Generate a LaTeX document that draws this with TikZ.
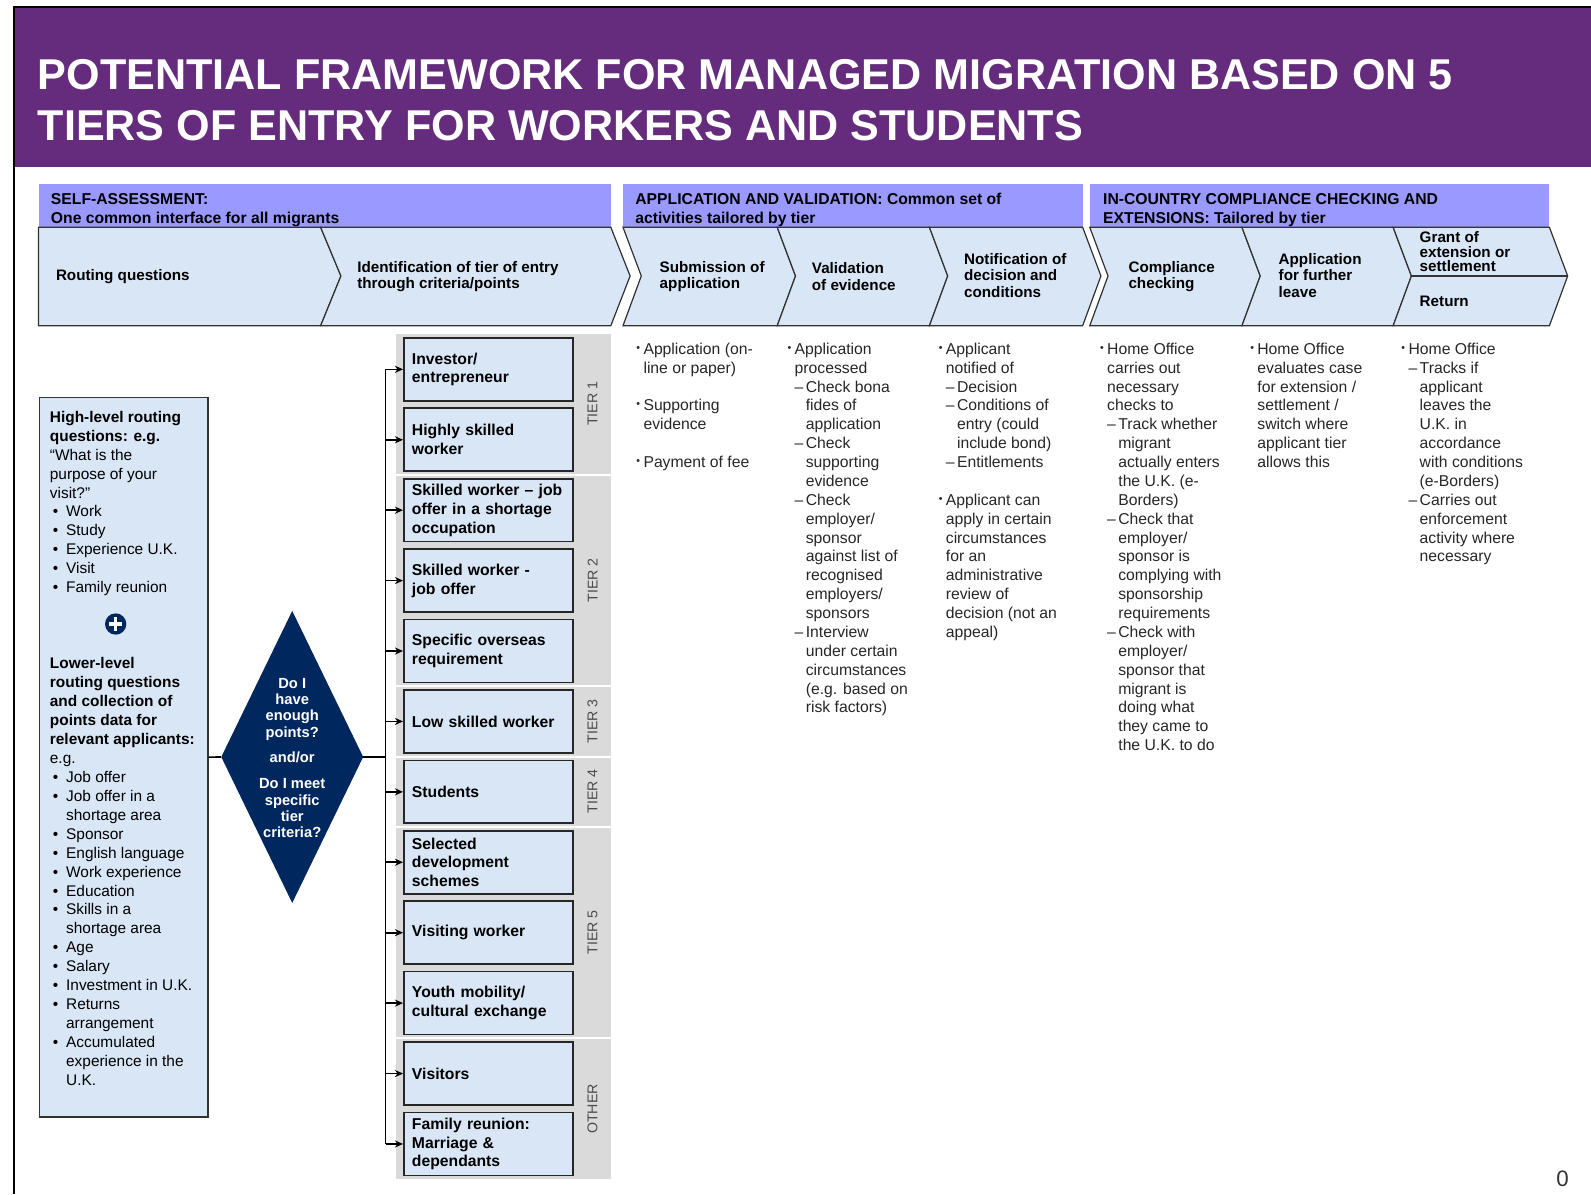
\documentclass[tikz,border=0pt]{standalone}
\usepackage{fontspec}
\setmainfont{Liberation Sans}
\usepackage{xcolor}
\usepackage{tikz}
\usetikzlibrary{arrows.meta,shapes.geometric}

\definecolor{bandpurple}{RGB}{101,44,125}
\definecolor{headlilac}{RGB}{153,153,255}
\definecolor{paleblue}{RGB}{216,230,246}
\definecolor{tiergrey}{RGB}{218,218,218}
\definecolor{navy}{RGB}{0,40,94}
\definecolor{edgegrey}{RGB}{50,50,50}

\newcommand{\colbul}{\makebox[7pt][l]{\raisebox{3pt}{\fontsize{10.5}{10}\selectfont\textbullet}}}
\newcommand{\coldash}{\hspace*{7pt}\makebox[11pt][l]{–}}
\newcommand{\colin}{\hspace*{7pt}}
\newcommand{\colsub}{\hspace*{18pt}}
\newcommand{\boxbul}{\hspace*{3pt}\makebox[13pt][l]{\textbullet}}
\newcommand{\boxin}{\hspace*{16pt}}

\begin{document}
\begin{tikzpicture}[x=1pt,y=-1pt,>={Stealth[length=8pt,width=7pt]},
            node distance=69.4pt]
        \tikzstyle{chev}=[fill=paleblue,draw=edgegrey,line width=1.2pt]
        \tikzstyle{headtext}=[anchor=north west,inner sep=0pt,align=left,font=\fontsize{15.5}{18}\selectfont\bfseries]
        \tikzstyle{chevtext}=[anchor=west,inner sep=0pt,align=left,font=\fontsize{15}{16}\selectfont\bfseries]
        \tikzstyle{tierbox}=[draw=black!85,line width=1.6pt,fill=paleblue,minimum height=62pt,text width=151pt,inner xsep=8pt,align=left,font=\fontsize{15.5}{18.5}\selectfont\bfseries]
        \tikzstyle{tierlabel}=[rotate=90,text=black!70,font=\fontsize{14}{14}\selectfont]
        \tikzstyle{coltext}=[anchor=north west,inner sep=0pt,align=left,text=black!85,font=\fontsize{15.5}{18.6}\selectfont]
        \tikzstyle{boxtext}=[anchor=north west,inner sep=0pt,align=left,font=\fontsize{15.2}{18.65}\selectfont]
        \tikzstyle{branch}=[->,line width=1.6pt]

        \useasboundingbox (0,0) rectangle (1568,1177);

        \fill[bandpurple] (14,7) rectangle (1568,165);
        \draw[line width=2.5pt] (14,1177) -- (14,7) -- (1568,7);
        \node[anchor=base west,inner sep=0pt,text=white,font=\fontsize{42.5}{50}\selectfont\bfseries] (title1) at (37,88) {POTENTIAL FRAMEWORK FOR MANAGED MIGRATION BASED ON 5};
        \node[anchor=base west,inner sep=0pt,text=white,font=\fontsize{42.5}{50}\selectfont\bfseries] (title2) at (37,138) {TIERS OF ENTRY FOR WORKERS AND STUDENTS};

        \fill[headlilac] (38,181) rectangle (602,224);
        \fill[headlilac] (614,181) rectangle (1067,224);
        \fill[headlilac] (1074,181) rectangle (1527,224);
        \node[headtext] (self) at (50,189) {\strut SELF-ASSESSMENT:\\ One common interface for all migrants};
        \node[headtext] (apply) at (626,189) {\strut APPLICATION AND VALIDATION: Common set of\\ activities tailored by tier};
        \node[headtext] (comply) at (1087,189) {\strut IN-COUNTRY COMPLIANCE CHECKING AND\\ EXTENSIONS: Tailored by tier};

        \filldraw[chev] (38,224) -- (316,224) -- (336,272) -- (316,321) -- (38,321) -- cycle;
        \filldraw[chev] (316,224) -- (602,224) -- (621,272) -- (602,321) -- (316,321) -- (336,272) -- cycle;
        \filldraw[chev] (614,224) -- (766,224) -- (784,272) -- (766,321) -- (614,321) -- (632,272) -- cycle;
        \filldraw[chev] (766,224) -- (916,224) -- (934,272) -- (916,321) -- (766,321) -- (784,272) -- cycle;
        \filldraw[chev] (916,224) -- (1067,224) -- (1085,272) -- (1067,321) -- (916,321) -- (934,272) -- cycle;
        \filldraw[chev] (1074,224) -- (1224,224) -- (1242,272) -- (1224,321) -- (1074,321) -- (1092,272) -- cycle;
        \filldraw[chev] (1224,224) -- (1373,224) -- (1391,272) -- (1373,321) -- (1224,321) -- (1242,272) -- cycle;
        \filldraw[chev] (1373,224) -- (1527,224) -- (1545,272) -- (1527,321) -- (1373,321) -- (1391,272) -- cycle;
        \draw[chev] (1391,272) -- (1545,272);

        \node[chevtext] (route) at (55,273) {Routing questions};
        \node[chevtext] (ident) at (352,272.5) {Identification of tier of entry\\through criteria/points};
        \node[chevtext] (submit) at (650,272.5) {Submission of\\application};
        \node[chevtext] (valid) at (800,272.5) {Validation\\of evidence};
        \node[chevtext] (notify) at (950,271.5) {Notification of\\decision and\\conditions};
        \node[chevtext] (check) at (1112,272.5) {Compliance\\checking};
        \node[chevtext] (leave) at (1260,271.5) {Application\\for further\\leave};
        \node[chevtext,font=\fontsize{15}{14}\selectfont\bfseries] (grant) at (1399,248) {Grant of\\extension or\\settlement};
        \node[chevtext] (return) at (1399,297) {Return};

        \node[coltext] (colA) at (627,336) {\strut\colbul Application (on-\\
            \colin line or paper)\\[18.6pt]
            \colbul Supporting\\
            \colin evidence\\[18.6pt]
            \colbul Payment of fee};
        \node[coltext] (colB) at (776,336) {\strut\colbul Application\\
            \colin processed\\
            \coldash Check bona\\
            \colsub fides of\\
            \colsub application\\
            \coldash Check\\
            \colsub supporting\\
            \colsub evidence\\
            \coldash Check\\
            \colsub employer/\\
            \colsub sponsor\\
            \colsub against list of\\
            \colsub recognised\\
            \colsub employers/\\
            \colsub sponsors\\
            \coldash Interview\\
            \colsub under certain\\
            \colsub circumstances\\
            \colsub (e.g. based on\\
            \colsub risk factors)};
        \node[coltext] (colC) at (925,336) {\strut\colbul Applicant\\
            \colin notified of\\
            \coldash Decision\\
            \coldash Conditions of\\
            \colsub entry (could\\
            \colsub include bond)\\
            \coldash Entitlements\\[18.6pt]
            \colbul Applicant can\\
            \colin apply in certain\\
            \colin circumstances\\
            \colin for an\\
            \colin administrative\\
            \colin review of\\
            \colin decision (not an\\
            \colin appeal)};
        \node[coltext] (colD) at (1084,336) {\strut\colbul Home Office\\
            \colin carries out\\
            \colin necessary\\
            \colin checks to\\
            \coldash Track whether\\
            \colsub migrant\\
            \colsub actually enters\\
            \colsub the U.K. (e-\\
            \colsub Borders)\\
            \coldash Check that\\
            \colsub employer/\\
            \colsub sponsor is\\
            \colsub complying with\\
            \colsub sponsorship\\
            \colsub requirements\\
            \coldash Check with\\
            \colsub employer/\\
            \colsub sponsor that\\
            \colsub migrant is\\
            \colsub doing what\\
            \colsub they came to\\
            \colsub the U.K. to do};
        \node[coltext] (colE) at (1232,336) {\strut\colbul Home Office\\
            \colin evaluates case\\
            \colin for extension /\\
            \colin settlement /\\
            \colin switch where\\
            \colin applicant tier\\
            \colin allows this};
        \node[coltext] (colF) at (1381,336) {\strut\colbul Home Office\\
            \coldash Tracks if\\
            \colsub applicant\\
            \colsub leaves the\\
            \colsub U.K. in\\
            \colsub accordance\\
            \colsub with conditions\\
            \colsub (e-Borders)\\
            \coldash Carries out\\
            \colsub enforcement\\
            \colsub activity where\\
            \colsub necessary};

        \node[draw=edgegrey,line width=1.5pt,fill=paleblue,minimum width=166pt,minimum height=709pt,anchor=north west,inner sep=0pt] (routing) at (38,391) {};
        \node[boxtext] (high) at (49,403) {\strut\textbf{High-level routing}\\
            \textbf{questions: e.g.}\\
            “What is the\\
            purpose of your\\
            visit?”\\
            \boxbul Work\\
            \boxbul Study\\
            \boxbul Experience U.K.\\
            \boxbul Visit\\
            \boxbul Family reunion};
        \node[circle,fill=navy,minimum size=21pt,inner sep=0pt] (plus) at (114,615) {};
        \draw[white,line width=3.4pt] (107.5,615) -- (120.5,615) (114,608.5) -- (114,621.5);
        \node[boxtext] (low) at (49,646) {\strut\textbf{Lower-level}\\
            \textbf{routing questions}\\
            \textbf{and collection of}\\
            \textbf{points data for}\\
            \textbf{relevant applicants:}\\
            e.g.\\
            \boxbul Job offer\\
            \boxbul Job offer in a\\
            \boxin shortage area\\
            \boxbul Sponsor\\
            \boxbul English language\\
            \boxbul Work experience\\
            \boxbul Education\\
            \boxbul Skills in a\\
            \boxin shortage area\\
            \boxbul Age\\
            \boxbul Salary\\
            \boxbul Investment in U.K.\\
            \boxbul Returns\\
            \boxin arrangement\\
            \boxbul Accumulated\\
            \boxin experience in the\\
            \boxin U.K.};

        \node[diamond,fill=navy,minimum width=140pt,minimum height=288pt,inner sep=0pt] (D) at (288,746) {};
        \node[text=white,align=center,inner sep=0pt,font=\fontsize{14.5}{16}\selectfont\bfseries] (ask) at (288,747) {Do I\\have\\enough\\points?\\[9pt]and/or\\[10pt]Do I meet\\specific\\tier\\criteria?};

        \fill[tiergrey] (390,329) rectangle (602,467);
        \fill[tiergrey] (390,469) rectangle (602,675);
        \fill[tiergrey] (390,677) rectangle (602,745);
        \fill[tiergrey] (390,747) rectangle (602,814);
        \fill[tiergrey] (390,816) rectangle (602,1022);
        \fill[tiergrey] (390,1024) rectangle (602,1162);
        \node[tierlabel] (L1) at (584,398) {TIER 1};
        \node[tierlabel] (L2) at (584,572) {TIER 2};
        \node[tierlabel] (L3) at (584,711) {TIER 3};
        \node[tierlabel] (L4) at (584,780) {TIER 4};
        \node[tierlabel] (L5) at (584,919) {TIER 5};
        \node[tierlabel] (L6) at (584,1093) {OTHER};

        \node[tierbox] (T1) at (481.5,364) {Investor/\\entrepreneur};
        \node[tierbox] (T2) [below of=T1] {Highly skilled\\worker};
        \node[tierbox] (T3) [below of=T2] {Skilled worker – job\\offer in a shortage\\occupation};
        \node[tierbox] (T4) [below of=T3] {Skilled worker -\\job offer};
        \node[tierbox] (T5) [below of=T4] {Specific overseas\\requirement};
        \node[tierbox] (T6) [below of=T5] {Low skilled worker};
        \node[tierbox] (T7) [below of=T6] {Students};
        \node[tierbox] (T8) [below of=T7] {Selected\\development\\schemes};
        \node[tierbox] (T9) [below of=T8] {Visiting worker};
        \node[tierbox] (T10) [below of=T9] {Youth mobility/\\cultural exchange};
        \node[tierbox] (T11) [below of=T10] {Visitors};
        \node[tierbox] (T12) [below of=T11] {Family reunion:\\Marriage \&\\dependants};

        \coordinate (bus) at (380,746);
        \draw[line width=1.6pt] (routing.east) -- (D.west);
        \draw[line width=2.6pt] (D.east) -- (bus);
        \draw[line width=1.6pt] (bus |- T1.west) -- (bus |- T12.west);
        \foreach \k in {1,...,12}
            \draw[branch] (bus |- T\k.west) -- (T\k.west);

        \node[font=\fontsize{22}{22}\selectfont,text=black!80] (page) at (1540,1162) {0};
    \end{tikzpicture}
\end{document}
